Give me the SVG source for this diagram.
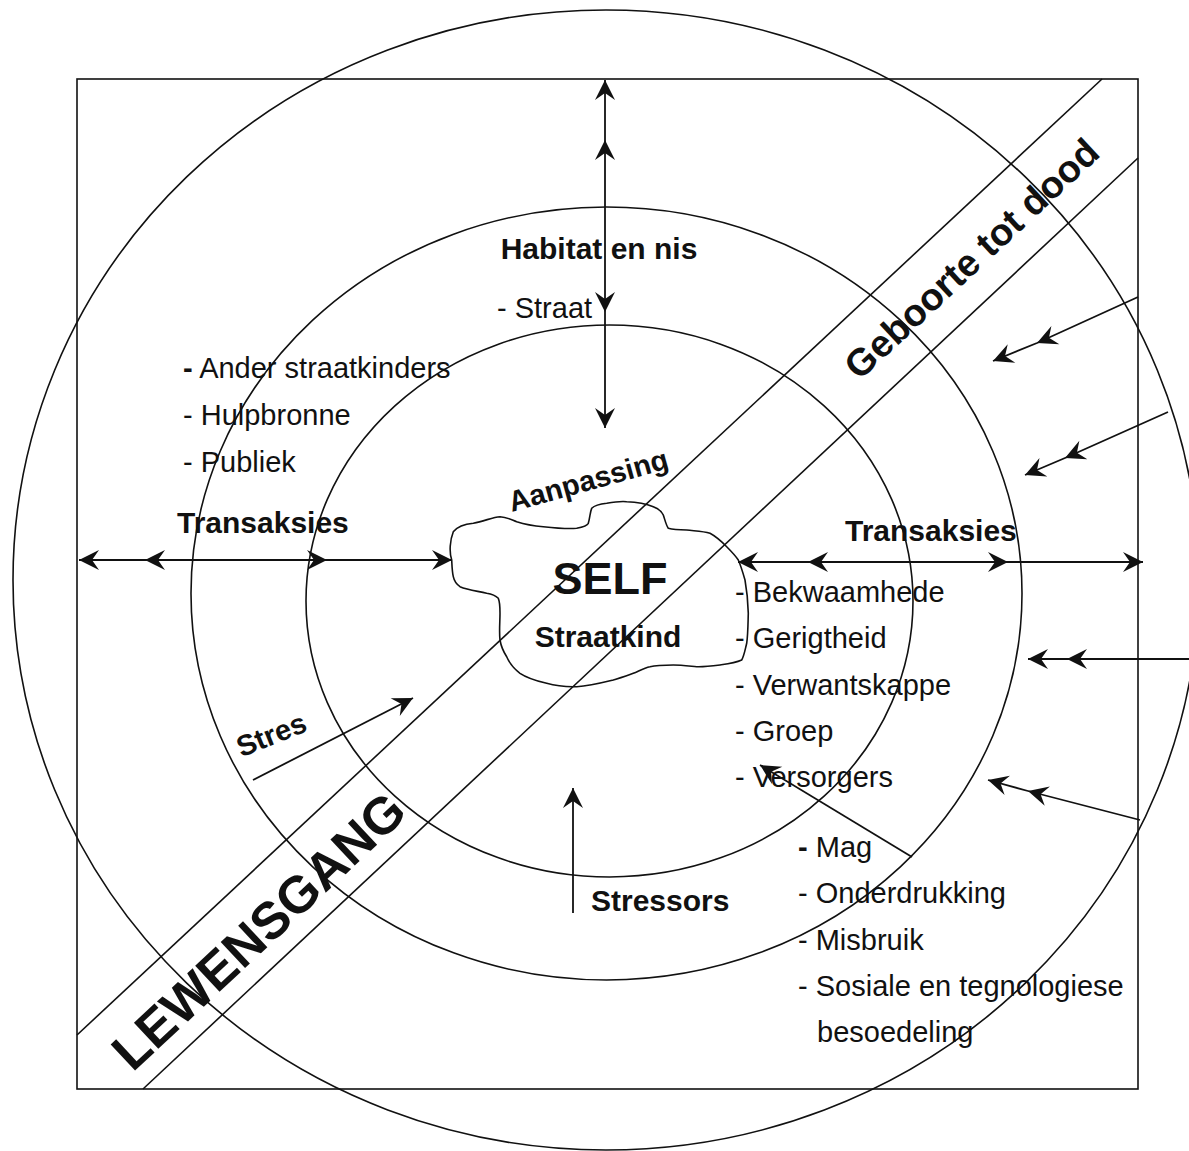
<svg xmlns="http://www.w3.org/2000/svg" width="1189" height="1151" viewBox="0 0 1189 1151">
<style>
.ln{fill:none;stroke:#111;stroke-width:1.6}
.cn{fill:none;stroke:#111;stroke-width:1.8}
.t{font-family:"Liberation Sans",Arial,sans-serif;font-size:29px;fill:#111}
.b{font-family:"Liberation Sans",Arial,sans-serif;font-size:30px;font-weight:bold;fill:#111}
.ah{marker-mid:url(#ah);marker-end:url(#ah)}
</style>
<defs>
<marker id="ah" viewBox="-21 -11 22 22" refX="0" refY="0" markerWidth="22" markerHeight="22" markerUnits="userSpaceOnUse" orient="auto">
<path d="M0,0 L-20,-10 L-13,0 L-20,10 Z" fill="#111"/>
</marker>
</defs>
<rect width="1189" height="1151" fill="#fff"/>
<g id="frame">
<rect class="ln" x="77" y="79" width="1061" height="1010"/>
</g>
<g id="rings">
<ellipse id="outer" class="ln" cx="606" cy="580" rx="593" ry="570"/>
<ellipse id="middle" class="ln" cx="606.5" cy="593.5" rx="415.5" ry="386.5"/>
<ellipse id="inner" class="ln" cx="609.5" cy="601" rx="303.5" ry="276"/>
</g>
<g id="lewensgang">
<line class="ln" x1="77" y1="1035" x2="1102" y2="79"/>
<line class="ln" x1="143" y1="1089" x2="1138" y2="158"/>
<g transform="translate(971,258) rotate(-43)"><text class="b" x="0" y="14" text-anchor="middle" style="font-size:38px">Geboorte tot dood</text></g>
<g transform="translate(258,930) rotate(-43)"><text class="b" x="0" y="19" text-anchor="middle" style="font-size:52px">LEWENSGANG</text></g>
</g>
<g id="self">
<path class="ln" d="M451.7,560 C449,552 450,540 453.3,531.7 C458,526 466,524 473.3,523.3 C485,521 493,517 500,516.7 C507,517 512,520 516.7,521.7 C527,525 535,526 543.3,526.7 C555,528 568,529 576.7,528.3 C583,527 587,526 588.3,523.3 C590,518 590,512 591.7,508.3 C595,505 600,504 606.7,503.3 C614,502 620,501 626.7,501.7 C638,502 647,504 653.3,506.7 C659,509 662,512 663.3,515 C665,520 666,525 668.3,528.3 C674,530 680,530 686.7,530 C695,531 703,531 710,533.3 C717,537 722,542 726.7,546.7 C731,551 735,555 738.3,560 C741,566 743,573 745,580 C747,591 748,602 748.3,613.3 C748,623 748,634 746.7,643.3 C745,650 744,656 741.7,660 C735,663 727,664 720,665 C712,666 704,667 696.7,666.7 C689,666 681,665 673.3,665 C665,665 657,665 650,666.7 C644,668 639,671 633.3,673.3 C627,676 620,678 613.3,680 C601,683 589,686 576.7,686.7 C566,687 556,686 546.7,683.3 C537,681 527,678 520,673.3 C513,668 509,662 506.7,656.7 C503,651 501,646 500,640 C499,631 500,622 500,613.3 C500,607 500,602 498.3,598.3 C495,595 491,594 486.7,593.3 C477,591 468,590 460,586.7 C456,584 454,580 453.3,576.7 C452,571 452,565 451.7,560 Z"/>
<text class="b" x="610" y="594" text-anchor="middle" style="font-size:45px">SELF</text>
<text class="b" x="608" y="647" text-anchor="middle">Straatkind</text>
</g>
<g id="connectors">
<polyline class="cn ah" points="605,250 605,140 605,80"/>
<polyline class="cn ah" points="605,250 605,312 605,428"/>
<polyline class="cn ah" points="230,560 145,560 79,560"/>
<polyline class="cn ah" points="230,560 327,560 452,560"/>
<polyline class="cn ah" points="900,562 808,562 738,562"/>
<polyline class="cn ah" points="900,562 1008,562 1143,562"/>
<polyline class="cn ah" points="1138,297 1037,343 993,361"/>
<polyline class="cn ah" points="1168,412 1065,458 1025,475"/>
<polyline class="cn ah" points="1189,659 1067,659 1028,659"/>
<polyline class="cn ah" points="1140,820 1028,791 988,780"/>
<line class="cn" x1="253" y1="780" x2="413" y2="698" marker-end="url(#ah)"/>
<line class="cn" x1="573" y1="913" x2="573" y2="788" marker-end="url(#ah)"/>
<line class="cn" x1="912" y1="857" x2="760" y2="765" marker-end="url(#ah)"/>
</g>
<g id="habitat">
<text class="b" x="599" y="259" text-anchor="middle">Habitat en nis</text>
<text class="t" x="497" y="318">- Straat</text>
</g>
<g id="left-list">
<text class="t" x="183" y="378"><tspan font-weight="bold">-</tspan> Ander straatkinders</text>
<text class="t" x="183" y="425">- Hulpbronne</text>
<text class="t" x="183" y="472">- Publiek</text>
<text class="b" x="177" y="533">Transaksies</text>
</g>
<g id="right-list">
<text class="b" x="845" y="541">Transaksies</text>
<text class="t" x="735" y="602">- Bekwaamhede</text>
<text class="t" x="735" y="648">- Gerigtheid</text>
<text class="t" x="735" y="695">- Verwantskappe</text>
<text class="t" x="735" y="741">- Groep</text>
<text class="t" x="735" y="787">- Versorgers</text>
</g>
<g id="aanpassing">
<g transform="translate(591,490) rotate(-15.5)"><text class="b" x="0" y="0" text-anchor="middle" style="font-size:29px">Aanpassing</text></g>
</g>
<g id="stres">
<g transform="translate(275,744) rotate(-22)"><text class="b" x="0" y="0" text-anchor="middle" style="font-size:29px">Stres</text></g>
</g>
<g id="stressors">
<text class="b" x="591" y="911">Stressors</text>
<text class="t" x="798" y="857"><tspan font-weight="bold">-</tspan> Mag</text>
<text class="t" x="798" y="903">- Onderdrukking</text>
<text class="t" x="798" y="950">- Misbruik</text>
<text class="t" x="798" y="996">- Sosiale en tegnologiese</text>
<text class="t" x="817" y="1042">besoedeling</text>
</g>
</svg>
